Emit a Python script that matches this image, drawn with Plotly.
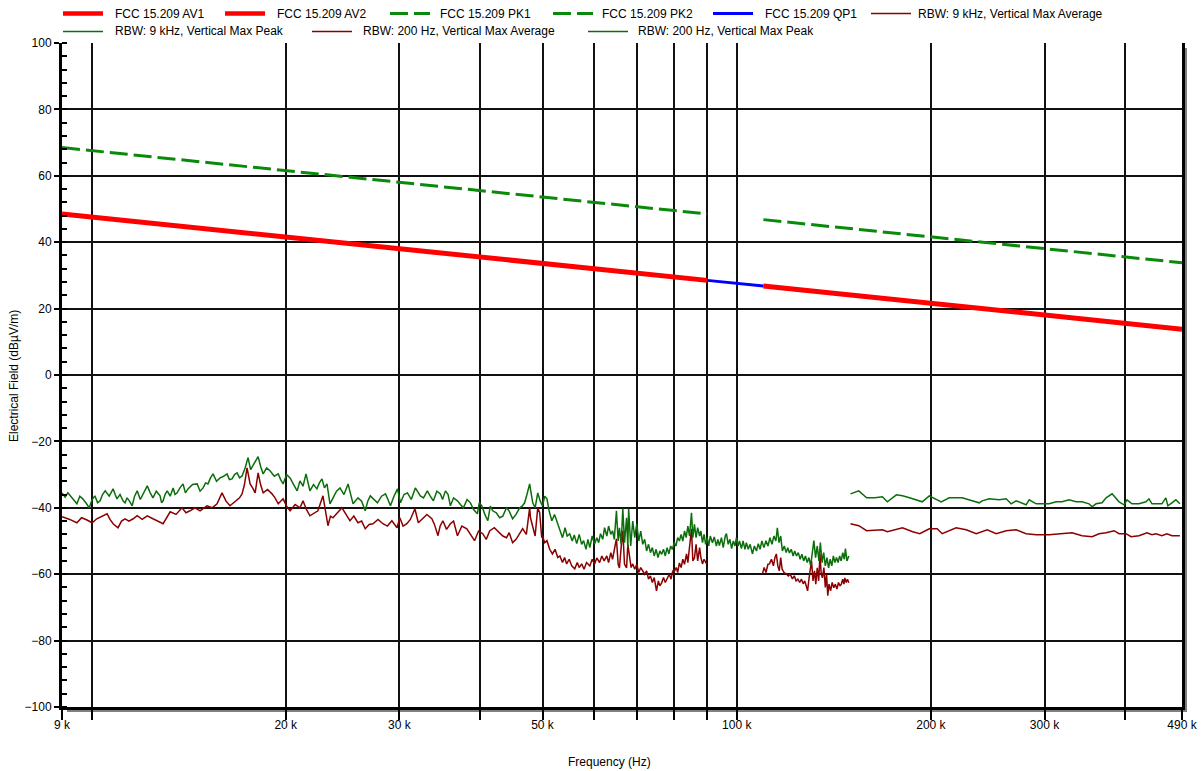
import plotly.graph_objects as go

# ---------------- data: (frequency in kHz, level in dBµV/m) ----------------
# FCC 15.209 limit lines
av1 = [(9.0, 48.5), (90.0, 28.5)]
av2 = [(110.0, 26.8), (490.0, 13.8)]
pk1 = [(9.0, 68.5), (90.0, 48.5)]
pk2 = [(110.0, 46.8), (490.0, 33.8)]
qp1 = [(90.0, 28.5), (110.0, 26.8)]

# RBW 200 Hz, vertical, max peak (9 kHz - 150 kHz)
pk200 = [
    (9.00, -35.5), (9.10, -36.8), (9.19, -35.5), (9.33, -37.0), (9.49, -38.8),
    (9.59, -36.5), (9.69, -37.3), (9.80, -38.5), (9.92, -40.0), (10.02, -37.5),
    (10.12, -36.4), (10.22, -38.5), (10.31, -37.9), (10.40, -36.0), (10.50, -34.9),
    (10.65, -36.5), (10.80, -34.3), (10.88, -36.0), (10.95, -37.3), (11.07, -36.0),
    (11.19, -37.9), (11.27, -38.5), (11.35, -37.0), (11.45, -38.0), (11.56, -39.4),
    (11.66, -36.5), (11.77, -34.9), (11.90, -37.5), (12.02, -35.8), (12.11, -34.5),
    (12.20, -33.4), (12.33, -35.5), (12.45, -37.0), (12.60, -35.0), (12.77, -36.4),
    (12.84, -38.5), (12.91, -37.9), (13.00, -36.0), (13.10, -34.9), (13.24, -36.5),
    (13.38, -34.0), (13.47, -36.0), (13.57, -35.5), (13.71, -34.0), (13.86, -32.8),
    (13.98, -35.5), (14.11, -34.3), (14.34, -33.0), (14.58, -32.8), (14.73, -35.0),
    (14.89, -34.0), (15.02, -32.5), (15.15, -32.8), (15.29, -31.0), (15.43, -29.8),
    (15.62, -32.0), (15.82, -31.0), (16.02, -30.5), (16.22, -29.8), (16.36, -31.5),
    (16.51, -31.3), (16.66, -30.0), (16.81, -29.5), (16.96, -31.0), (17.11, -30.4),
    (17.30, -28.0), (17.48, -24.9), (17.64, -28.5), (17.80, -27.3), (17.96, -26.0),
    (18.12, -24.6), (18.28, -27.5), (18.45, -29.8), (18.68, -28.0), (18.92, -28.9),
    (19.20, -30.5), (19.47, -29.8), (19.64, -31.5), (19.81, -32.8), (20.06, -30.0),
    (20.31, -31.0), (20.57, -33.0), (20.83, -34.9), (21.04, -31.9), (21.27, -33.5),
    (21.50, -29.8), (21.65, -32.5), (21.80, -34.9), (22.08, -33.0), (22.35, -34.3),
    (22.55, -32.5), (22.76, -31.3), (22.96, -34.0), (23.17, -32.8), (23.42, -38.8),
    (23.67, -37.0), (23.97, -35.0), (24.27, -34.0), (24.62, -36.0), (24.98, -32.8),
    (25.20, -35.5), (25.43, -38.8), (25.88, -37.0), (26.22, -38.0), (26.56, -40.9),
    (26.80, -38.0), (27.04, -36.4), (27.39, -37.5), (27.74, -38.5), (28.15, -36.5),
    (28.55, -35.8), (28.80, -37.5), (29.06, -39.4), (29.43, -36.5), (29.80, -34.3),
    (30.12, -38.5), (30.50, -36.0), (30.88, -35.5), (31.30, -37.5), (31.76, -34.0),
    (32.00, -35.0), (32.33, -36.4), (32.70, -37.0), (33.15, -34.9), (33.50, -36.5),
    (33.87, -37.9), (34.30, -35.0), (34.73, -35.8), (35.00, -37.5), (35.36, -34.9),
    (35.70, -36.0), (35.99, -39.4), (36.40, -37.0), (36.91, -37.9), (37.30, -39.0),
    (37.70, -40.0), (38.20, -37.5), (38.66, -38.5), (39.10, -40.5), (39.63, -41.8),
    (39.90, -38.5), (40.26, -39.4), (40.70, -42.0), (41.14, -43.9), (41.50, -39.5),
    (41.86, -40.9), (42.40, -41.5), (42.90, -43.0), (43.40, -42.5), (43.97, -40.0),
    (44.40, -41.0), (44.94, -43.3), (45.50, -42.0), (46.08, -40.0), (46.50, -39.5),
    (46.91, -38.5), (47.30, -36.0), (47.76, -32.8), (48.00, -35.5), (48.29, -38.5),
    (48.70, -40.0), (49.16, -35.5), (49.60, -38.0),
    (50.0, -39.4), (50.4, -36.5), (50.8, -37.3), (51.2, -41.0), (51.7, -43.9),
    (52.2, -42.0), (52.8, -44.8), (53.3, -46.5), (53.7, -49.0), (54.2, -46.0),
    (54.6, -48.5), (55.1, -47.8), (55.6, -50.0), (56.0, -48.2), (56.5, -50.8),
    (57.0, -48.0), (57.5, -51.0), (57.9, -49.9), (58.4, -52.5), (58.8, -49.5),
    (59.2, -52.0), (59.7, -48.5), (60.2, -51.0), (60.7, -49.0), (61.1, -50.5),
    (61.5, -47.8), (62.0, -49.5), (62.4, -46.0), (62.9, -48.5), (63.3, -45.5),
    (63.8, -48.0), (64.2, -46.9), (64.6, -49.5), (65.1, -40.9), (65.5, -50.0),
    (65.8, -46.0), (66.2, -51.0), (66.6, -40.3), (67.0, -50.5), (67.5, -43.0),
    (67.8, -52.0), (68.0, -40.3), (68.5, -51.5), (69.0, -44.0), (69.5, -49.0),
    (70.0, -44.8), (70.5, -50.0), (71.0, -47.0), (71.5, -51.0), (72.0, -49.5),
    (72.5, -53.0), (73.0, -51.0), (73.5, -53.5), (74.0, -52.0), (74.5, -54.5),
    (75.0, -52.5), (75.5, -55.0), (76.0, -53.0), (76.5, -54.0), (77.0, -52.5),
    (77.5, -54.5), (78.0, -52.0), (78.5, -53.9), (79.0, -51.5), (79.5, -52.5),
    (80.0, -50.5), (80.5, -51.5), (81.0, -49.0), (81.5, -50.0), (82.0, -48.0),
    (82.5, -50.0), (83.0, -47.0), (83.5, -49.0), (84.0, -45.5), (84.5, -48.5),
    (85.1, -41.5), (85.5, -49.0), (86.0, -45.0), (86.5, -49.0), (87.0, -46.0),
    (87.6, -48.5), (88.0, -47.0), (88.5, -50.5), (89.0, -48.0), (89.5, -51.0),
    (90.0, -49.0), (90.5, -51.5), (91.0, -48.5), (91.7, -50.5), (92.3, -48.8),
    (93.0, -51.5), (93.5, -49.5), (94.0, -51.4), (94.7, -49.0), (95.3, -52.0),
    (96.0, -48.5), (96.4, -47.8), (97.0, -51.0), (97.6, -49.5), (98.2, -52.3),
    (98.8, -50.0), (99.4, -51.5), (99.9, -49.0), (100.5, -51.5), (101.0, -50.0),
    (101.7, -52.3), (102.3, -50.0), (103.0, -52.5), (103.5, -50.5), (104.2, -52.5),
    (104.9, -51.0), (105.8, -53.9), (106.5, -51.5), (107.3, -53.0), (108.0, -50.8),
    (108.7, -52.5), (109.4, -50.0), (110.2, -52.0), (111.0, -49.9), (111.8, -51.5),
    (112.6, -49.0), (113.4, -51.0), (114.2, -48.5), (115.0, -50.0), (115.6, -46.0),
    (116.3, -50.5), (117.0, -48.5), (117.7, -53.0), (118.5, -51.5), (119.3, -53.5),
    (120.0, -52.0), (120.7, -53.6), (121.5, -52.5), (122.3, -54.5), (123.0, -53.0),
    (123.8, -54.5), (124.6, -53.5), (125.4, -55.5), (126.2, -54.0), (127.0, -56.0),
    (127.8, -54.5), (128.6, -56.5), (129.4, -55.0), (130.2, -57.5), (131.0, -53.0),
    (131.7, -49.9), (132.5, -55.0), (133.3, -51.5), (134.1, -56.0), (134.8, -50.5),
    (135.6, -56.5), (136.4, -53.5), (137.2, -57.5), (138.0, -55.0), (138.8, -58.1),
    (139.6, -55.5), (140.4, -57.5), (141.2, -54.5), (142.0, -56.5), (142.8, -55.0),
    (143.6, -56.5), (144.4, -54.5), (145.2, -56.0), (146.0, -53.5), (146.8, -55.5),
    (147.4, -52.3), (148.2, -56.0), (149.2, -54.5),
]

# RBW 200 Hz, vertical, max average (no sweep data between 90 kHz and 109 kHz)
av200_low = [
    (9.00, -42.7), (9.25, -43.5), (9.49, -44.5), (9.65, -43.0), (9.82, -43.6),
    (10.02, -44.5), (10.19, -43.3), (10.38, -42.5), (10.57, -41.8), (10.68, -43.5),
    (10.80, -44.8), (10.99, -46.0), (11.13, -44.0), (11.27, -43.3), (11.43, -44.0),
    (11.60, -43.3), (11.77, -42.4), (11.98, -43.5), (12.20, -42.4), (12.45, -43.3),
    (12.68, -44.0), (12.91, -44.8), (13.24, -41.2), (13.52, -42.0), (13.81, -40.0),
    (14.01, -41.5), (14.21, -40.9), (14.47, -40.0), (14.73, -40.9), (15.10, -39.4),
    (15.38, -40.0), (15.65, -38.8), (15.93, -35.5), (16.16, -38.0), (16.39, -39.4),
    (16.60, -38.5), (16.81, -37.9), (16.96, -37.0), (17.11, -35.8), (17.26, -33.0),
    (17.42, -28.0), (17.61, -32.8), (17.77, -34.0), (17.93, -35.5), (18.12, -29.5),
    (18.28, -33.0), (18.45, -35.5), (18.74, -34.5), (19.04, -35.8), (19.25, -37.0),
    (19.47, -38.8), (19.81, -37.3), (20.06, -39.5), (20.31, -40.9), (20.68, -39.0),
    (21.04, -40.0), (21.27, -37.9), (21.53, -40.5), (21.80, -42.4), (22.12, -41.5),
    (22.43, -40.9), (22.84, -36.4), (23.04, -41.0), (23.25, -45.4), (23.46, -42.5),
    (23.67, -43.0), (24.05, -41.5), (24.44, -40.0), (24.80, -42.0), (25.15, -43.9),
    (25.50, -42.5), (25.88, -44.5), (26.22, -44.0), (26.56, -46.3), (26.93, -45.0),
    (27.30, -44.8), (27.80, -43.5), (28.29, -44.8), (28.75, -45.5), (29.21, -43.9),
    (29.75, -46.0),
    (30.05, -43.0), (30.40, -45.5), (30.81, -44.8), (31.20, -43.5), (31.71, -40.3),
    (32.10, -44.5), (32.62, -43.3), (33.10, -42.0), (33.69, -43.3), (34.00, -45.0),
    (34.43, -48.4), (34.70, -45.5), (35.04, -43.9), (35.50, -46.5), (35.99, -44.8),
    (36.40, -44.0), (36.91, -48.4), (37.50, -45.5), (38.17, -46.3), (38.70, -48.0),
    (39.23, -49.9), (39.80, -47.0), (40.40, -47.8), (40.90, -49.5), (41.43, -46.9),
    (42.10, -46.0), (42.90, -47.5), (43.40, -48.5), (43.97, -49.0), (44.40, -47.5),
    (44.94, -50.5), (45.50, -49.5), (46.08, -47.8), (46.58, -46.3), (47.20, -48.0),
    (47.76, -40.0), (47.90, -43.0), (48.29, -46.0), (48.70, -48.5), (49.16, -40.0),
    (49.50, -41.5), (49.86, -49.0),
    (50.0, -48.5), (50.4, -50.5), (50.8, -49.9), (51.3, -52.5), (51.8, -53.9),
    (52.3, -52.5), (52.8, -55.0), (53.2, -54.5), (53.7, -56.5), (54.1, -55.0),
    (54.5, -56.9), (55.0, -55.5), (55.5, -57.5), (56.1, -58.4), (56.6, -56.5),
    (57.0, -58.0), (57.5, -56.9), (58.0, -58.5), (58.5, -56.5), (59.2, -57.5),
    (59.7, -55.5), (60.2, -57.0), (60.7, -55.1), (61.3, -56.5), (61.8, -54.5),
    (62.3, -56.0), (62.9, -54.5), (63.3, -56.5), (63.8, -53.5), (64.2, -55.5),
    (64.6, -53.0), (65.1, -49.3), (65.5, -57.0), (65.8, -58.1), (66.2, -52.0),
    (66.6, -46.9), (67.0, -57.0), (67.5, -58.1), (67.8, -51.0), (68.2, -53.9),
    (68.6, -58.0), (69.0, -56.9), (69.5, -58.5), (70.0, -57.0), (70.5, -59.5),
    (71.0, -58.0), (71.5, -59.0), (72.0, -60.0), (72.5, -59.0), (73.0, -61.5),
    (73.5, -60.5), (74.0, -62.5), (74.5, -61.0), (75.1, -65.0), (75.6, -62.0),
    (76.0, -63.5), (76.5, -62.6), (77.0, -61.0), (77.5, -62.5), (78.1, -61.1),
    (78.6, -60.0), (79.1, -61.5), (79.6, -59.0), (80.1, -59.0), (80.6, -58.0),
    (81.0, -59.5), (81.5, -56.6), (82.0, -58.0), (82.5, -55.5), (83.0, -57.0),
    (83.6, -53.9), (84.0, -56.5), (84.5, -52.0), (85.1, -46.3), (85.5, -56.0),
    (86.0, -55.1), (86.5, -51.0), (87.0, -56.0), (87.6, -52.0), (88.0, -55.0),
    (88.5, -56.9), (89.0, -55.5), (89.8, -56.9),
]
av200_high = [
    (109.6, -59.9), (110.3, -58.0), (111.0, -59.5), (111.8, -57.0), (112.4, -56.9),
    (113.2, -55.5), (114.0, -57.5), (114.6, -55.0), (115.2, -53.9), (115.8, -57.5),
    (116.4, -59.0), (117.0, -55.0), (117.6, -58.5), (118.4, -59.5), (119.4, -59.9),
    (120.2, -60.5), (121.0, -60.0), (122.0, -61.4), (122.8, -60.5), (123.6, -62.0),
    (124.4, -61.5), (125.2, -62.5), (126.0, -61.5), (126.8, -62.9), (127.5, -62.0),
    (128.2, -64.0), (128.8, -65.0), (129.5, -61.0), (130.2, -58.0), (130.6, -56.0),
    (131.3, -62.0), (132.0, -59.0), (132.6, -63.0), (133.3, -58.1), (134.0, -62.0),
    (134.6, -53.9), (135.2, -60.0), (135.8, -61.1), (136.5, -58.0), (137.2, -64.0),
    (137.8, -60.0), (138.4, -66.5), (139.0, -63.0), (139.8, -65.0), (140.6, -62.5),
    (141.4, -64.1), (142.2, -63.0), (143.0, -64.5), (143.8, -62.5), (144.6, -63.5),
    (145.3, -62.9), (146.0, -61.5), (146.6, -63.0), (147.1, -61.1), (147.8, -62.5),
    (148.5, -61.5), (149.2, -62.6),
]

# RBW 9 kHz, vertical, max peak (150 kHz - 490 kHz)
pk9k = [
    (150.1, -35.8), (154.6, -34.9), (159.0, -37.0), (163.8, -37.0), (168.2, -36.7),
    (171.2, -38.2), (176.8, -36.1), (180.7, -36.4), (185.3, -37.0), (193.9, -38.2),
    (198.8, -36.4), (207.5, -38.2), (213.5, -37.0), (223.6, -37.0), (231.7, -37.9),
    (237.6, -38.5), (240.1, -37.9), (246.2, -37.3), (255.2, -37.6), (261.6, -37.3),
    (266.3, -38.8), (271.1, -37.9), (280.9, -39.1), (284.0, -37.6), (291.2, -38.8),
    (297.5, -38.8), (305.0, -38.8), (312.7, -38.2), (319.4, -38.2), (327.5, -37.6),
    (335.8, -38.2), (343.0, -38.2), (351.6, -38.8), (355.5, -39.7), (360.6, -38.8),
    (368.4, -38.5), (373.7, -37.0), (381.8, -35.8), (391.4, -38.2), (398.4, -39.1),
    (402.7, -37.6), (409.9, -38.8), (420.3, -38.8), (430.9, -38.2), (435.5, -37.3),
    (440.2, -38.8), (456.1, -38.8), (462.6, -37.0), (465.9, -39.4), (472.7, -38.5),
    (479.4, -37.6), (486.3, -38.8),
]

# RBW 9 kHz, vertical, max average (150 kHz - 490 kHz)
av9k = [
    (150.1, -44.8), (154.6, -45.4), (159.0, -46.9), (164.9, -46.6), (168.2, -46.6),
    (171.2, -47.2), (175.5, -46.6), (180.7, -46.0), (187.4, -47.2), (192.2, -47.8),
    (198.8, -46.3), (204.5, -46.3), (208.2, -47.8), (213.5, -46.9), (218.8, -46.0),
    (226.8, -46.6), (235.1, -47.8), (244.5, -46.6), (252.5, -47.8), (261.6, -46.9),
    (271.1, -46.6), (280.9, -47.8), (291.2, -48.1), (305.0, -48.1), (319.4, -47.8),
    (331.0, -47.5), (343.0, -48.4), (355.5, -48.7), (364.4, -47.8), (373.7, -47.5),
    (384.6, -46.9), (391.4, -47.8), (401.3, -47.8), (408.5, -48.7), (420.3, -48.4),
    (432.4, -47.5), (440.2, -48.1), (446.5, -47.8), (456.1, -48.4), (464.3, -47.8),
    (472.7, -48.4), (486.3, -48.4),
]

x_tick_vals_khz = [9, 10, 20, 30, 40, 50, 60, 70, 80, 90, 100, 200, 300, 400, 490]
x_tick_text = ["9 k", "", "20 k", "30 k", "", "50 k", "", "", "", "",
               "100 k", "200 k", "300 k", "", "490 k"]

# ---------------- styling ----------------
FONT = "Liberation Sans, Arial, sans-serif"
RED = "#ff0000"
LIMIT_GREEN = "#0a8a0a"
BLUE = "#0000ff"
PEAK_GREEN = "#0b6e0b"
AVG_RED = "#8b0000"
PK_DASH = "18px,6px"

W, H = 1203, 771
L, R, T, B = 62, 21, 43, 64
PW, PH = W - L - R, H - T - B


def split(points):
    """Turn (kHz, dB) pairs into Hz / dB lists; a None pair breaks the line."""
    xs = [None if p is None else p[0] * 1000 for p in points]
    ys = [None if p is None else p[1] for p in points]
    return xs, ys


def px_x(px):
    return (px - L) / PW


def px_y(py):
    return (H - B - py) / PH


series = [
    ("FCC 15.209 AV1", av1, dict(color=RED, width=5)),
    ("FCC 15.209 AV2", av2, dict(color=RED, width=5)),
    ("FCC 15.209 PK1", pk1, dict(color=LIMIT_GREEN, width=3, dash=PK_DASH)),
    ("FCC 15.209 PK2", pk2, dict(color=LIMIT_GREEN, width=3, dash=PK_DASH)),
    ("FCC 15.209 QP1", qp1, dict(color=BLUE, width=3)),
    ("RBW: 9 kHz, Vertical Max Average", av9k, dict(color=AVG_RED, width=1.5)),
    ("RBW: 9 kHz, Vertical Max Peak", pk9k, dict(color=PEAK_GREEN, width=1.5)),
    ("RBW: 200 Hz, Vertical Max Average", av200_low + [None] + av200_high,
     dict(color=AVG_RED, width=1.5)),
    ("RBW: 200 Hz, Vertical Max Peak", pk200, dict(color=PEAK_GREEN, width=1.5)),
]

fig = go.Figure()
for name, pts, line in series:
    xs, ys = split(pts)
    fig.add_trace(go.Scatter(x=xs, y=ys, mode="lines", name=name, line=line,
                             showlegend=False, connectgaps=False))

# legend drawn as swatches + labels in two rows
legend_rows = [
    (13.5, [(63, 113), (225, 275), (390, 438), (553, 600), (713, 763), (871, 916)]),
    (31.5, [(63, 113), (312, 361), (588, 636)]),
]
shapes = []
annotations = []
idx = 0
for row_y, items in legend_rows:
    for x0, tx in items:
        name, _, line = series[idx]
        idx += 1
        shapes.append(dict(type="line", xref="paper", yref="paper",
                           x0=px_x(x0), x1=px_x(x0 + 40), y0=px_y(row_y), y1=px_y(row_y),
                           line=dict(color=line["color"], width=min(line["width"], 4.5),
                                     dash=line.get("dash", "solid"))))
        annotations.append(dict(text=name, xref="paper", yref="paper", x=px_x(tx), y=px_y(row_y),
                                xanchor="left", yanchor="middle", showarrow=False,
                                font=dict(family=FONT, size=12, color="black")))

# drop shadow on the right and bottom edges of the plot frame
shapes.append(dict(type="rect", xref="paper", yref="paper", layer="below",
                   x0=px_x(1183), x1=px_x(1187), y0=px_y(712), y1=px_y(48),
                   line=dict(width=0), fillcolor="#808080"))
shapes.append(dict(type="rect", xref="paper", yref="paper", layer="below",
                   x0=px_x(67), x1=px_x(1187), y0=px_y(712), y1=px_y(708.5),
                   line=dict(width=0), fillcolor="#808080"))

annotations.append(dict(text="Frequency (Hz)", xref="paper", yref="paper",
                        x=px_x(609), y=px_y(762), xanchor="center", yanchor="middle",
                        showarrow=False, font=dict(family=FONT, size=12, color="black")))
annotations.append(dict(text="Electrical Field (dBµV/m)", xref="paper", yref="paper",
                        x=px_x(14), y=px_y(376), xanchor="center", yanchor="middle",
                        textangle=-90, showarrow=False,
                        font=dict(family=FONT, size=12, color="black")))

fig.update_layout(
    width=W, height=H,
    margin=dict(l=L, r=R, t=T, b=B, pad=0),
    paper_bgcolor="white", plot_bgcolor="white",
    font=dict(family=FONT, size=12, color="black"),
    showlegend=False,
    shapes=shapes, annotations=annotations,
    xaxis=dict(
        type="log", range=[3.9542, 5.6902], autorange=False,
        tickvals=[v * 1000 for v in x_tick_vals_khz], ticktext=x_tick_text,
        showgrid=True, gridcolor="#111111", gridwidth=1.5,
        ticks="outside", ticklen=10, tickwidth=1.5, tickcolor="black",
        ticklabelstandoff=-5,
        showline=True, linecolor="black", linewidth=3,
        tickfont=dict(family=FONT, size=12, color="black"),
        zeroline=False, automargin=False,
    ),
    yaxis=dict(
        range=[-100, 100], autorange=False, tick0=-100, dtick=20,
        showgrid=True, gridcolor="#111111", gridwidth=1.5,
        ticks="outside", ticklen=5, tickwidth=1.5, tickcolor="black",
        showline=True, linecolor="black", linewidth=3, mirror=True,
        minor=dict(dtick=4, tick0=-100, ticks="inside", ticklen=5, tickwidth=1.5,
                   tickcolor="black", showgrid=False),
        tickfont=dict(family=FONT, size=12, color="black"),
        zeroline=False, automargin=False,
    ),
)

fig.write_html("out.html")
